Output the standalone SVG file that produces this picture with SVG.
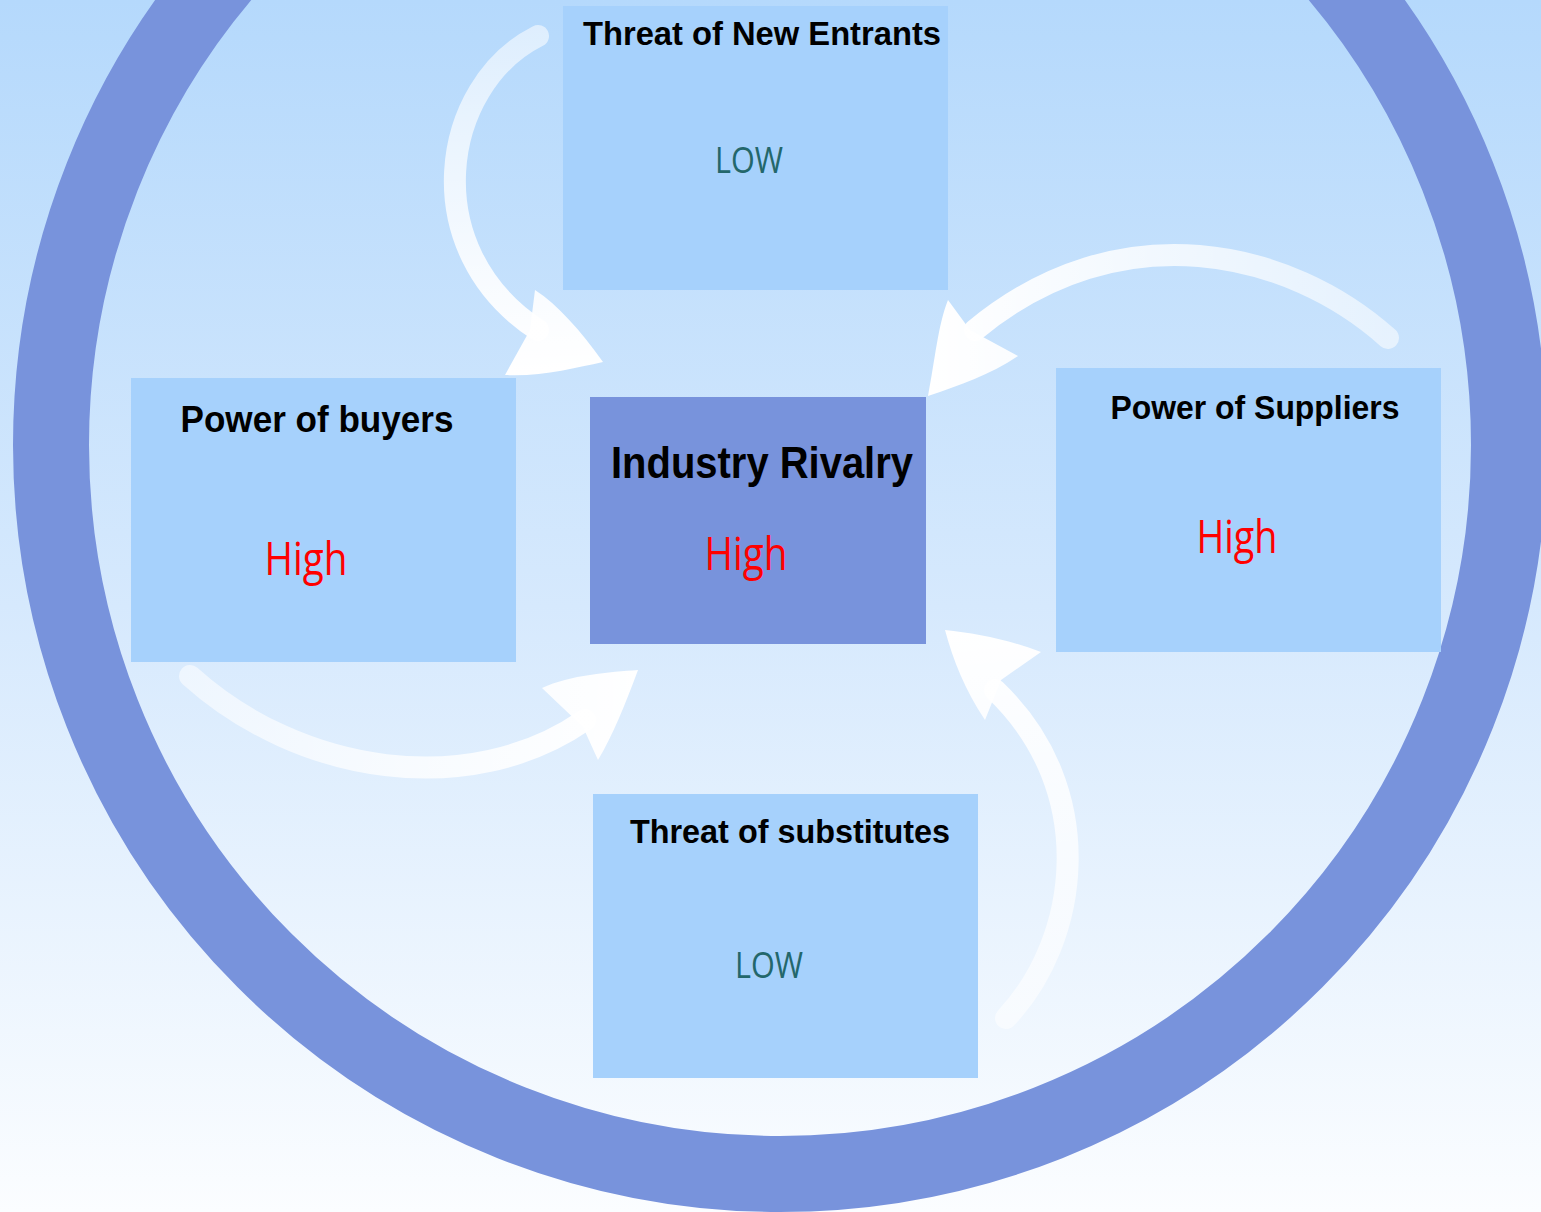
<svg xmlns="http://www.w3.org/2000/svg" width="1541" height="1212" viewBox="0 0 1541 1212">
<defs>
<linearGradient id="bg" x1="0" y1="0" x2="0" y2="1">
<stop offset="0" stop-color="#b5d9fc"/>
<stop offset="0.5" stop-color="#d6e9fd"/>
<stop offset="1" stop-color="#fbfdff"/>
</linearGradient>
<linearGradient id="g1" gradientUnits="userSpaceOnUse" x1="540" y1="30" x2="560" y2="370">
<stop offset="0" stop-color="#fff" stop-opacity="0.55"/>
<stop offset="1" stop-color="#fff" stop-opacity="1"/>
</linearGradient>
<linearGradient id="g2" gradientUnits="userSpaceOnUse" x1="1395" y1="300" x2="930" y2="300">
<stop offset="0" stop-color="#fff" stop-opacity="0.55"/>
<stop offset="1" stop-color="#fff" stop-opacity="1"/>
</linearGradient>
<linearGradient id="g3" gradientUnits="userSpaceOnUse" x1="185" y1="700" x2="640" y2="700">
<stop offset="0" stop-color="#fff" stop-opacity="0.55"/>
<stop offset="1" stop-color="#fff" stop-opacity="1"/>
</linearGradient>
<linearGradient id="g4" gradientUnits="userSpaceOnUse" x1="1000" y1="1025" x2="960" y2="630">
<stop offset="0" stop-color="#fff" stop-opacity="0.55"/>
<stop offset="1" stop-color="#fff" stop-opacity="1"/>
</linearGradient>
</defs>
<style>
.box{fill:#a6d1fc;}
.center{fill:#7893dc;}
.title{font-family:"Liberation Sans","DejaVu Sans",sans-serif;font-weight:bold;fill:#000;}
.val{font-family:"Open Sans","Liberation Sans",sans-serif;}
.high{fill:#ff0000;}
.low{fill:#23676b;}
.shaft{fill:none;stroke-width:22;stroke-linecap:round;}
</style>
<rect x="0" y="0" width="1541" height="1212" fill="url(#bg)"/>
<circle cx="780" cy="445" r="729" fill="none" stroke="#7893dc" stroke-width="76"/>

<g id="connectors">
<g id="arrow-entrants">
<path class="shaft" stroke="url(#g1)" d="M538,36 C440,85 415,250 538,330"/>
<path fill="url(#g1)" d="M603,362 C580,330 558,305 535,290 L530,330 L505,375 C540,377 575,368 603,362 Z"/>
</g>
<g id="arrow-suppliers">
<path class="shaft" stroke="url(#g2)" d="M1388,338 C1290,250 1120,210 975,330"/>
<path fill="url(#g2)" d="M928,396 C935,360 938,325 948,300 L970,330 L1018,356 C990,375 960,385 928,396 Z"/>
</g>
<g id="arrow-buyers">
<path class="shaft" stroke="url(#g3)" d="M190,676 C300,775 470,800 585,720"/>
<path fill="url(#g3)" d="M638,670 C625,705 613,735 598,760 L583,727 L542,688 C570,675 610,672 638,670 Z"/>
</g>
<g id="arrow-substitutes">
<path class="shaft" stroke="url(#g4)" d="M1006,1018 C1080,940 1100,790 995,690"/>
<path fill="url(#g4)" d="M945,630 C975,633 1010,640 1041,652 L1001,680 L985,720 C965,690 953,660 945,630 Z"/>
</g>
</g>

<g id="node-entrants">
<rect class="box" x="563" y="6" width="385" height="284"/>
<text class="title" x="762" y="45" font-size="34" text-anchor="middle" textLength="358" lengthAdjust="spacingAndGlyphs">Threat of New Entrants</text>
<text class="val low" x="749" y="173" font-size="36" text-anchor="middle" textLength="68" lengthAdjust="spacingAndGlyphs">LOW</text>
</g>
<g id="node-buyers">
<rect class="box" x="131" y="378" width="385" height="284"/>
<text class="title" x="317" y="432" font-size="36" text-anchor="middle" textLength="273" lengthAdjust="spacingAndGlyphs">Power of buyers</text>
<text class="val high" x="306" y="575" font-size="46" text-anchor="middle" textLength="83" lengthAdjust="spacingAndGlyphs">High</text>
</g>
<g id="node-rivalry">
<rect class="center" x="590" y="397" width="336" height="247"/>
<text class="title" x="762" y="478" font-size="44" text-anchor="middle" textLength="302" lengthAdjust="spacingAndGlyphs">Industry Rivalry</text>
<text class="val high" x="746" y="570" font-size="46" text-anchor="middle" textLength="83" lengthAdjust="spacingAndGlyphs">High</text>
</g>
<g id="node-suppliers">
<rect class="box" x="1056" y="368" width="385" height="284"/>
<text class="title" x="1255" y="419" font-size="34" text-anchor="middle" textLength="289" lengthAdjust="spacingAndGlyphs">Power of Suppliers</text>
<text class="val high" x="1237" y="553" font-size="46" text-anchor="middle" textLength="81" lengthAdjust="spacingAndGlyphs">High</text>
</g>
<g id="node-substitutes">
<rect class="box" x="593" y="794" width="385" height="284"/>
<text class="title" x="790" y="843" font-size="34" text-anchor="middle" textLength="320" lengthAdjust="spacingAndGlyphs">Threat of substitutes</text>
<text class="val low" x="769" y="978" font-size="36" text-anchor="middle" textLength="68" lengthAdjust="spacingAndGlyphs">LOW</text>
</g>
</svg>
